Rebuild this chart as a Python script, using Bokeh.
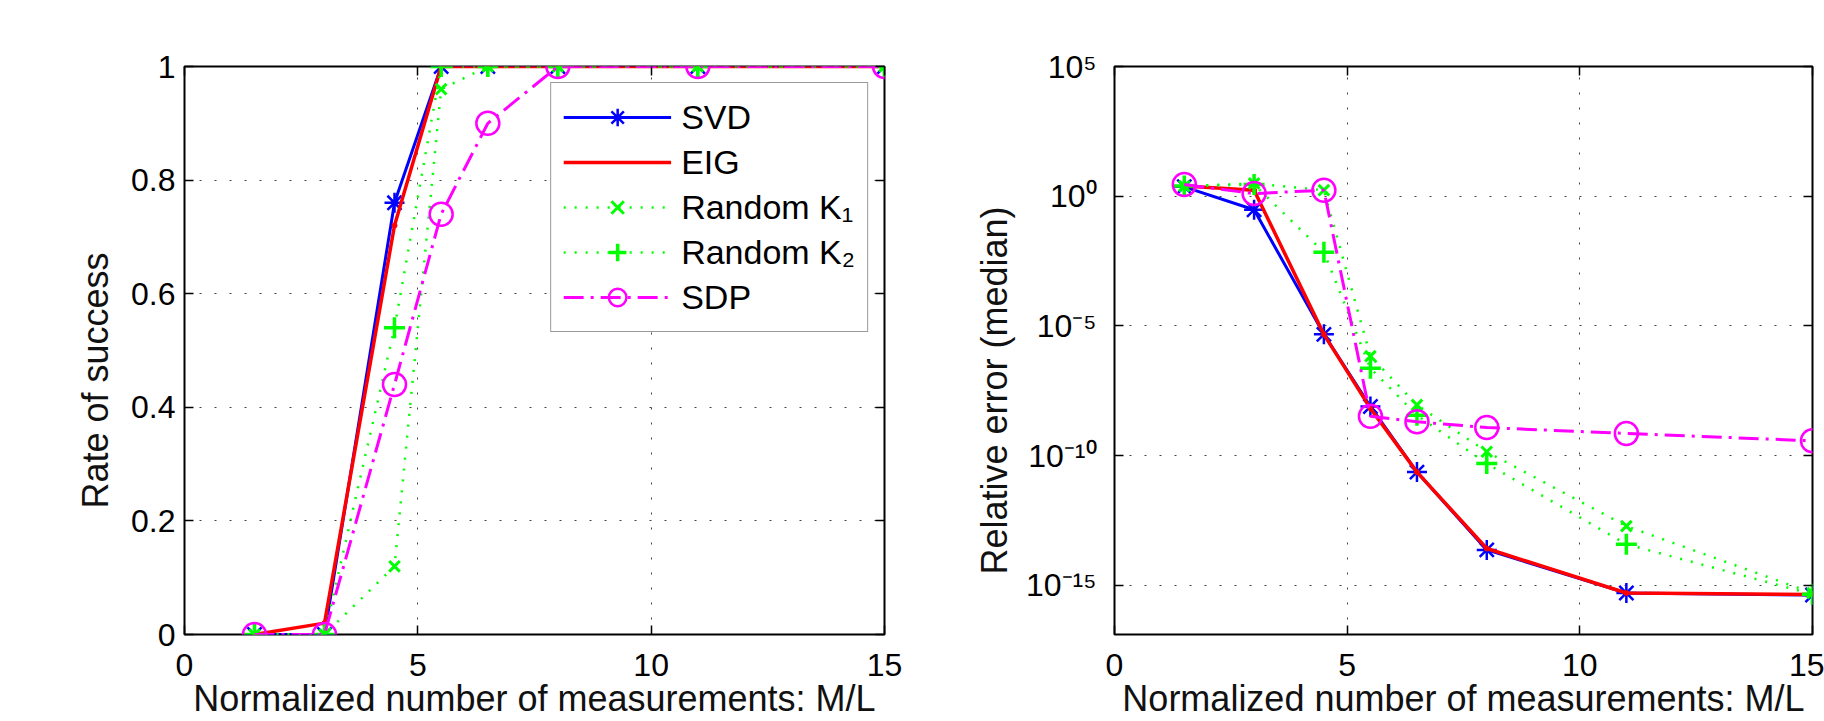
from bokeh.plotting import figure
from bokeh.layouts import row
from bokeh.models import (FixedTicker, LinearAxis, LogAxis, Legend, LegendItem,
                          Range1d, CustomJSTickFormatter)
from bokeh.embed import file_html
from bokeh.resources import INLINE

# ---------------- data ----------------
ml = [1.5, 3, 4.5, 5.5, 6.5, 8, 11, 15]

# Rate of success
svd_rate = [0, 0, 0.76, 1, 1, 1, 1, 1]
eig_rate = [0, 0.02, 0.72, 1, 1, 1, 1, 1]
k1_rate = [0, 0, 0.12, 0.96, 1, 1, 1, 1]
k2_rate = [0, 0, 0.54, 1, 1, 1, 1, 1]
sdp_rate = [0, 0, 0.44, 0.74, 0.90, 1, 1, 1]

# Relative error (median)
svd_err = [2.3, 0.30, 4.7e-6, 7.8e-9, 2.3e-11, 2.3e-14, 5.0e-16, 4.2e-16]
eig_err = [2.45, 1.70, 4.7e-6, 6.6e-9, 2.3e-11, 2.6e-14, 5.0e-16, 4.4e-16]
k1_err = [2.45, 3.1, 1.7, 6.8e-7, 8.9e-9, 1.4e-10, 1.9e-13, 5.0e-16]
k2_err = [2.45, 2.8, 6.9e-3, 2.3e-7, 3.6e-9, 4.9e-11, 3.8e-14, 4.5e-16]
sdp_err = [2.8, 1.26, 1.7, 3.3e-9, 2.0e-9, 1.2e-9, 7.1e-10, 3.7e-10]

labels = ["SVD", "EIG", "Random K\u2081", "Random K\u2082", "SDP"]
x_ticks = [0, 5, 10, 15]
rate_ticks = [0, 0.2, 0.4, 0.6, 0.8, 1]
err_ticks = [1e-15, 1e-10, 1e-5, 1, 1e5]
x_title = "Normalized number of measurements: M/L"
NB = "\u00a0"

FONT = "Liberation Sans"
BLUE, RED, GREEN, MAG = "#0000FF", "#FF0000", "#00FF00", "#FF00FF"
H = 721


def style(p, xticks, yticks):
    p.outline_line_color = "black"
    p.outline_line_width = 2
    p.background_fill_color = "white"
    p.border_fill_color = "white"
    for ax in p.xaxis + p.yaxis:
        ax.axis_line_color = None
        ax.major_tick_in = 9
        ax.major_tick_out = 0
        ax.major_tick_line_color = "black"
        ax.major_tick_line_width = 1.5
        ax.minor_tick_line_color = None
        ax.major_label_text_font = FONT
        ax.major_label_text_font_size = "32px"
        ax.major_label_text_color = "black"
        ax.axis_label_text_font = FONT
        ax.axis_label_text_font_size = "36px"
        ax.axis_label_text_font_style = "normal"
        ax.axis_label_text_color = "#111111"
    p.xaxis.ticker = FixedTicker(ticks=xticks)
    p.yaxis.ticker = FixedTicker(ticks=yticks)
    p.xaxis.major_label_standoff = 19
    p.xaxis.axis_label_standoff = -1
    p.xgrid.ticker = FixedTicker(ticks=xticks)
    p.ygrid.ticker = FixedTicker(ticks=yticks)
    for g in (p.xgrid, p.ygrid):
        g.grid_line_color = "#444444"
        g.grid_line_dash = "2 13"
        g.grid_line_width = 1


def add_box_ticks(p, xticks, yticks, log=False):
    top = LinearAxis(ticker=FixedTicker(ticks=xticks))
    right = (LogAxis if log else LinearAxis)(ticker=FixedTicker(ticks=yticks))
    for ax in (top, right):
        ax.axis_line_color = None
        ax.major_tick_in = 9
        ax.major_tick_out = 0
        ax.major_tick_line_color = "black"
        ax.major_tick_line_width = 1.5
        ax.minor_tick_line_color = None
        ax.major_label_text_font_size = "1px"
        ax.major_label_text_alpha = 0
        ax.major_label_standoff = 0
    p.add_layout(top, "above")
    p.add_layout(right, "right")


def draw(p, ys):
    r1 = p.line(ml, ys[0], line_color=BLUE, line_width=3)
    m1 = p.scatter(ml, ys[0], marker="asterisk", size=20, line_color=BLUE, line_width=2.5)
    r2 = p.line(ml, ys[1], line_color=RED, line_width=3.5)
    p.scatter(ml, ys[1], marker="circle", size=5, line_color=RED, fill_color=RED)
    r3 = p.line(ml, ys[2], line_color=GREEN, line_width=2.5, line_dash="2 9")
    m3 = p.scatter(ml, ys[2], marker="x", size=15, line_color=GREEN, line_width=3)
    r4 = p.line(ml, ys[3], line_color=GREEN, line_width=2.5, line_dash="2 9")
    m4 = p.scatter(ml, ys[3], marker="cross", size=21, line_color=GREEN, line_width=3.5)
    r5 = p.line(ml, ys[4], line_color=MAG, line_width=3, line_dash="20 7 3 7")
    m5 = p.scatter(ml, ys[4], marker="circle", size=23, line_color=MAG,
                   fill_color=None, line_width=2.5)
    return [LegendItem(label=labels[0], renderers=[r1, m1]),
            LegendItem(label=labels[1], renderers=[r2]),
            LegendItem(label=labels[2], renderers=[r3, m3]),
            LegendItem(label=labels[3], renderers=[r4, m4]),
            LegendItem(label=labels[4], renderers=[r5, m5])]


# ---------------- left: rate of success ----------------
p1 = figure(width=958, height=H, output_backend="svg", toolbar_location=None,
            x_range=Range1d(0, 15), y_range=Range1d(0, 1),
            min_border_left=184, min_border_right=74,
            min_border_top=66, min_border_bottom=87)
p1.xaxis.axis_label = x_title
p1.yaxis.axis_label = "Rate of success" + NB * 6
style(p1, x_ticks, rate_ticks)
p1.yaxis.major_label_standoff = 9
p1.yaxis.axis_label_standoff = 12
add_box_ticks(p1, x_ticks, rate_ticks)
items = draw(p1, [svd_rate, eig_rate, k1_rate, k2_rate, sdp_rate])
leg = Legend(items=items, location="top_right")
leg.margin = 16
leg.padding = 12
leg.spacing = 1
leg.glyph_width = 108
leg.glyph_height = 44
leg.label_height = 44
leg.label_standoff = 10
leg.label_text_font = FONT
leg.label_text_font_size = "34px"
leg.label_text_color = "black"
leg.border_line_color = "#333333"
leg.border_line_width = 1.5
leg.background_fill_color = "white"
leg.background_fill_alpha = 1
p1.add_layout(leg, "center")

# ---------------- right: relative error ----------------
p2 = figure(width=866, height=H, output_backend="svg", toolbar_location=None,
            x_range=Range1d(0, 15), y_range=Range1d(1.26e-17, 1e5),
            y_axis_type="log",
            min_border_left=156, min_border_right=12,
            min_border_top=66, min_border_bottom=87)
p2.xaxis.axis_label = x_title
p2.yaxis.axis_label = "Relative error (median)" + NB * 8
style(p2, x_ticks, err_ticks)
p2.yaxis.formatter = CustomJSTickFormatter(code="""
const sup = {'-':'\u207b','0':'\u2070','1':'\u00b9','2':'\u00b2','3':'\u00b3',
             '4':'\u2074','5':'\u2075','6':'\u2076','7':'\u2077','8':'\u2078','9':'\u2079'};
const e = Math.round(Math.log10(tick));
return '10' + String(e).split('').map(c => sup[c]).join('');
""")
p2.yaxis.major_label_standoff = 18
p2.yaxis.axis_label_standoff = 8
add_box_ticks(p2, x_ticks, err_ticks, log=True)
draw(p2, [svd_err, eig_err, k1_err, k2_err, sdp_err])

layout = row(p1, p2)
open("out.html", "w").write(file_html(layout, INLINE))
